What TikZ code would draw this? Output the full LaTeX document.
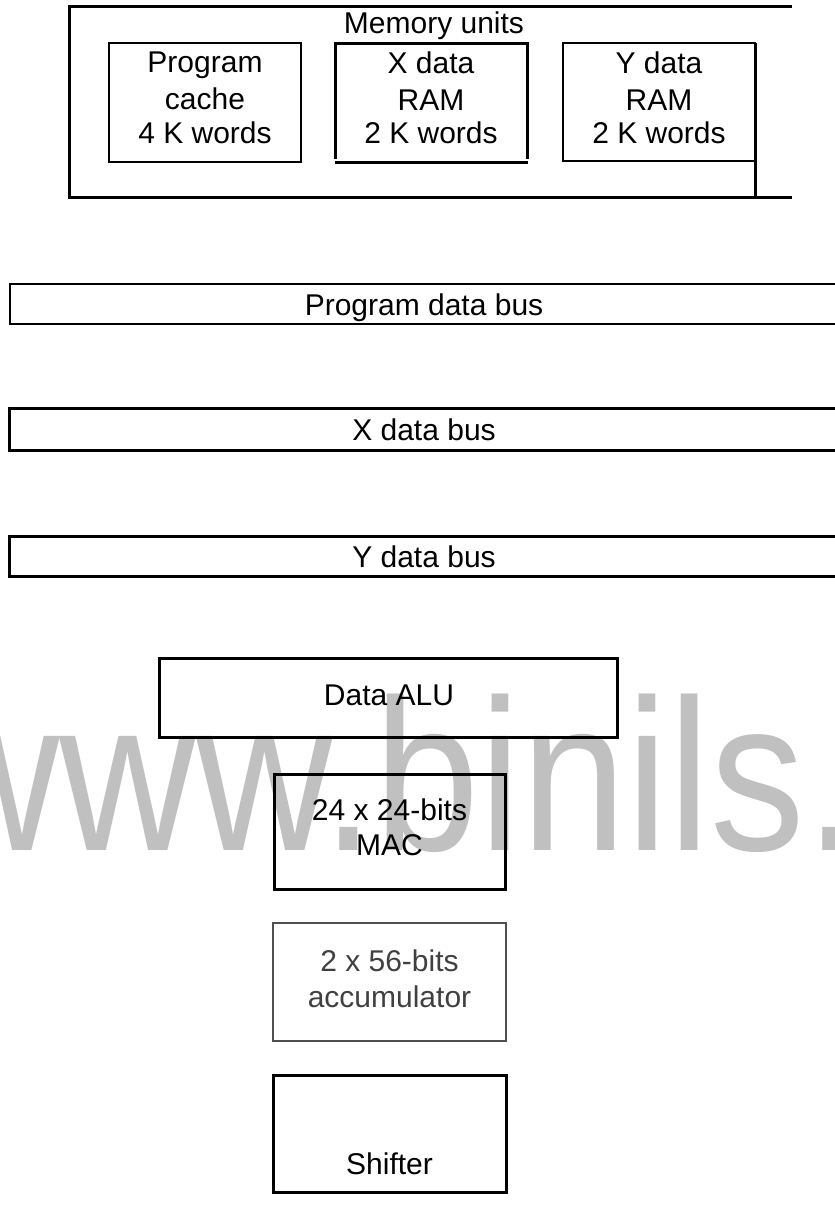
\documentclass[tikz,border=0pt]{standalone}
\usepackage{fontspec}
\setmainfont{Liberation Sans}
\newfontfamily\markfont[FakeStretch=0.875]{Liberation Sans}
\definecolor{markgray}{HTML}{C0C0C0}
\definecolor{accgray}{HTML}{404040}
\definecolor{accline}{HTML}{505050}

\tikzset{
  thinbox/.style={draw=black, line width=1.8bp, inner sep=0pt, outer sep=0pt},
  heavybox/.style={draw=black, line width=3bp, inner sep=0pt, outer sep=0pt},
  heavyline/.style={draw=black, line width=3bp},
  plainspot/.style={inner sep=0pt, outer sep=0pt},
  txt/.style={anchor=base, inner sep=0pt, font=\fontsize{30bp}{36bp}\selectfont},
  grytxt/.style={txt, text=accgray},
}

\begin{document}
\begin{tikzpicture}[x=1bp, y={(0bp,-1bp)}]
\useasboundingbox (0,0) rectangle (835,1225);

% background watermark lettering
\node[anchor=base west, inner sep=0pt, text=markgray,
      font=\markfont\fontsize{216bp}{216bp}\selectfont] (wm) at (-77,850) {www.binils.};

% ---- memory units block (open on the right) ----
\coordinate (mu-tr) at (792,6);
\coordinate (mu-tl) at (69,6);
\coordinate (mu-bl) at (69,197);
\coordinate (mu-br) at (792,197);
\draw[heavyline] (mu-tr) -- (mu-tl) -- (mu-bl) -- (mu-br);
\node[txt] (mu-title) at (434,33) {Memory units};

% program cache
\node[thinbox, minimum width=192bp, minimum height=119bp] (pcache) at (205,102.5) {};
\node[txt] (pc1) at (205,72) {Program};
\node[txt] (pc2) at (205,109) {cache};
\node[txt] (pc3) at (205,143) {4 K words};

% X data RAM: three heavy sides, bottom edge drawn slightly lower
\node[plainspot, minimum width=192bp, minimum height=116bp] (xram) at (431,101) {};
\draw[heavyline] (xram.south west) -- (xram.north west) -- (xram.north east) -- (xram.south east);
\draw[heavyline] ([yshift=-3bp]xram.south west) -- ([xshift=1bp,yshift=-3bp]xram.south east);
\node[txt] (xr1) at (431,73) {X data};
\node[txt] (xr2) at (431,110) {RAM};
\node[txt] (xr3) at (431,143) {2 K words};

% Y data RAM, right side carried down to the bottom edge
\node[thinbox, minimum width=192bp, minimum height=118bp] (yram) at (659,102) {};
\draw[heavyline] (yram.north east) -- (yram.north east |- mu-bl);
\node[txt] (yr1) at (659,73) {Y data};
\node[txt] (yr2) at (659,110) {RAM};
\node[txt] (yr3) at (659,143) {2 K words};

% ---- buses (running off the right edge) ----
\node[thinbox, minimum width=840bp, minimum height=40bp] (pbus) at (430,304) {};
\node[txt] (pbus-l) at (424,315) {Program data bus};

\node[heavybox, minimum width=840bp, minimum height=42bp] (xbus) at (430,429) {};
\node[txt] (xbus-l) at (424,440) {X data bus};

\node[heavybox, minimum width=840bp, minimum height=40bp] (ybus) at (430,556) {};
\node[txt] (ybus-l) at (424,567) {Y data bus};

% ---- data ALU and its parts ----
\node[heavybox, minimum width=457bp, minimum height=79bp] (alu) at (388.5,697.5) {};
\node[txt] (alu-l) at (389,705) {Data ALU};

\node[heavybox, minimum width=231bp, minimum height=115bp] (mac) at (389.5,831.5) {};
\node[txt] (mac1) at (389.5,820) {24 x 24-bits};
\node[txt] (mac2) at (389.5,855) {MAC};

\node[draw=accline, line width=1.5bp, inner sep=0pt, minimum width=233bp, minimum height=118bp] (acc) at (389.5,982) {};
\node[grytxt] (acc1) at (389.5,971) {2 x 56-bits};
\node[grytxt] (acc2) at (389.5,1007) {accumulator};

\node[heavybox, minimum width=233bp, minimum height=117bp] (shift) at (389.5,1133.5) {};
\node[txt] (shift-l) at (389.5,1174) {Shifter};
\end{tikzpicture}
\end{document}
